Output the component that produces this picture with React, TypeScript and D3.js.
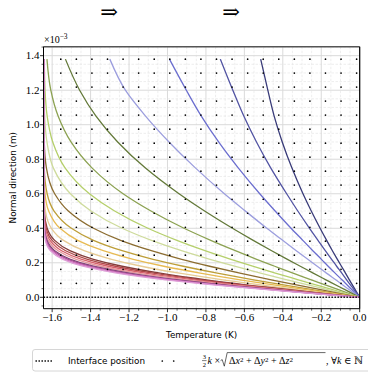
import React, { useEffect, useRef } from 'react';
import * as d3 from 'd3';

// heights above the interface (x 1e-3 m) at which the profiles are read
const heights = [0, 0.03, 0.06, 0.1, 0.14, 0.18, 0.22, 0.27, 0.33, 0.4, 0.5, 0.6, 0.75, 0.9, 1.05, 1.2, 1.38];

// temperature profiles (K), one per curve, values at `heights`
const prof00 = [0, -0.016, -0.032, -0.053, -0.074, -0.095, -0.116, -0.142, -0.172, -0.206, -0.252, -0.295, -0.353, -0.403, -0.445, -0.478, -0.515];
const prof01 = [0, -0.020, -0.040, -0.067, -0.093, -0.120, -0.146, -0.179, -0.217, -0.261, -0.322, -0.380, -0.463, -0.537, -0.603, -0.660, -0.725];
const prof02 = [0, -0.027, -0.055, -0.091, -0.128, -0.164, -0.199, -0.244, -0.296, -0.357, -0.440, -0.520, -0.632, -0.734, -0.824, -0.902, -0.990];
const prof03 = [0, -0.037, -0.074, -0.123, -0.173, -0.221, -0.270, -0.330, -0.401, -0.483, -0.595, -0.704, -0.855, -0.992, -1.114, -1.219, -1.300];
const prof04 = [0, -0.052, -0.104, -0.173, -0.242, -0.309, -0.376, -0.458, -0.554, -0.662, -0.807, -0.940, -1.116, -1.259, -1.372, -1.457, -1.531];
const prof05 = [0, -0.075, -0.150, -0.248, -0.347, -0.442, -0.536, -0.647, -0.775, -0.914, -1.086, -1.231, -1.393, -1.502, -1.569, -1.607, -1.627];
const prof06 = [0, -0.096, -0.191, -0.315, -0.439, -0.557, -0.670, -0.805, -0.951, -1.102, -1.275, -1.406, -1.533, -1.597, -1.626, -1.637, -1.641];
const prof07 = [0, -0.113, -0.225, -0.373, -0.516, -0.651, -0.779, -0.927, -1.083, -1.236, -1.398, -1.505, -1.594, -1.627, -1.639, -1.642, -1.643];
const prof08 = [0, -0.139, -0.276, -0.454, -0.623, -0.781, -0.926, -1.084, -1.244, -1.385, -1.516, -1.587, -1.630, -1.641, -1.643, -1.643, -1.643];
const prof09 = [0, -0.168, -0.333, -0.545, -0.741, -0.918, -1.075, -1.236, -1.385, -1.500, -1.590, -1.626, -1.641, -1.643, -1.643, -1.643, -1.643];
const prof10 = [0, -0.191, -0.378, -0.614, -0.830, -1.019, -1.178, -1.334, -1.467, -1.559, -1.618, -1.637, -1.643, -1.643, -1.643, -1.643, -1.643];
const prof11 = [0, -0.222, -0.437, -0.703, -0.938, -1.135, -1.291, -1.434, -1.541, -1.604, -1.635, -1.642, -1.643, -1.643, -1.643, -1.643, -1.643];
const prof12 = [0, -0.251, -0.493, -0.789, -1.038, -1.236, -1.385, -1.508, -1.587, -1.626, -1.641, -1.643, -1.643, -1.643, -1.643, -1.643, -1.643];
const prof13 = [0, -0.263, -0.516, -0.820, -1.075, -1.272, -1.416, -1.530, -1.600, -1.631, -1.642, -1.643, -1.643, -1.643, -1.643, -1.643, -1.643];
const prof14 = [0, -0.276, -0.540, -0.855, -1.114, -1.309, -1.446, -1.551, -1.611, -1.635, -1.642, -1.643, -1.643, -1.643, -1.643, -1.643, -1.643];
const prof15 = [0, -0.291, -0.567, -0.892, -1.155, -1.346, -1.475, -1.569, -1.620, -1.638, -1.643, -1.643, -1.643, -1.643, -1.643, -1.643, -1.643];
const prof16 = [0, -0.306, -0.595, -0.933, -1.198, -1.385, -1.505, -1.587, -1.627, -1.640, -1.643, -1.643, -1.643, -1.643, -1.643, -1.643, -1.643];
const prof17 = [0, -0.314, -0.611, -0.955, -1.219, -1.403, -1.518, -1.594, -1.630, -1.641, -1.643, -1.643, -1.643, -1.643, -1.643, -1.643, -1.643];
const prof18 = [0, -0.324, -0.628, -0.976, -1.244, -1.423, -1.533, -1.602, -1.633, -1.641, -1.643, -1.643, -1.643, -1.643, -1.643, -1.643, -1.643];
const prof19 = [0, -0.334, -0.646, -0.999, -1.264, -1.441, -1.544, -1.609, -1.635, -1.642, -1.643, -1.643, -1.643, -1.643, -1.643, -1.643, -1.643];

const profiles = [prof00, prof01, prof02, prof03, prof04, prof05, prof06, prof07, prof08, prof09,
  prof10, prof11, prof12, prof13, prof14, prof15, prof16, prof17, prof18, prof19];

// tab20b
const profileColors = ['#393b79', '#5254a3', '#6b6ecf', '#9c9ede', '#637939', '#8ca252', '#b5cf6b', '#cedb9c',
  '#8c6d31', '#bd9e39', '#e7ba52', '#e7cb94', '#843c39', '#ad494a', '#d6616b', '#e7969c',
  '#7b4173', '#a55194', '#ce6dbd', '#de9ed6'];

// grid of dots (k * spacing)
const dotTemps = [-1.555, -1.474, -1.393, -1.312, -1.231, -1.150, -1.069, -0.988, -0.907, -0.826,
  -0.745, -0.664, -0.583, -0.502, -0.421, -0.340, -0.259, -0.178, -0.097, -0.016];
const dotHeights = [0.081, 0.162, 0.244, 0.325, 0.406, 0.487, 0.568, 0.650, 0.731, 0.812,
  0.893, 0.974, 1.056, 1.137, 1.218, 1.299, 1.380];

const xTicks = [-1.6, -1.4, -1.2, -1.0, -0.8, -0.6, -0.4, -0.2, 0.0];
const yTicks = [0, 0.2, 0.4, 0.6, 0.8, 1.0, 1.2, 1.4];

const W = 368;
const H = 372;

export default function App() {
  const svgRef = useRef<SVGSVGElement | null>(null);

  useEffect(() => {
    document.body.style.margin = '0';
    const svg = d3.select(svgRef.current);
    svg.selectAll('*').remove();

    const left = 43.5, right = 359.7, top = 46.7, bottom = 308.7;
    const x = d3.scaleLinear().domain([-1.645, 0]).range([left, right]);
    const y = d3.scaleLinear().domain([-0.066, 1.452]).range([bottom, top]);

    const serif = '"Liberation Serif", "DejaVu Serif", serif';
    const sans = '"DejaVu Sans", sans-serif';

    // arrows on top
    [109, 231].forEach(cx => {
      svg.append('text').attr('x', cx).attr('y', 19).attr('text-anchor', 'middle')
        .attr('font-family', '"DejaVu Serif", serif').attr('font-size', 21).text('⇒');
    });

    svg.append('defs').append('clipPath').attr('id', 'plotclip')
      .append('rect').attr('x', left).attr('y', top).attr('width', right - left).attr('height', bottom - top);

    const grid = svg.append('g');
    const minorX = d3.range(-1.6, 0.001, 0.05).filter(v => Math.abs(Math.round(v * 5) - v * 5) > 1e-6);
    const minorY = d3.range(-0.05, 1.451, 0.05).filter(v => Math.abs(Math.round(v * 5) - v * 5) > 1e-6);
    minorX.forEach(v => grid.append('line').attr('x1', x(v)).attr('x2', x(v)).attr('y1', top).attr('y2', bottom)
      .attr('stroke', '#e6e6e6').attr('stroke-width', 0.7).attr('stroke-dasharray', '2.5,1.5'));
    minorY.forEach(v => grid.append('line').attr('y1', y(v)).attr('y2', y(v)).attr('x1', left).attr('x2', right)
      .attr('stroke', '#e6e6e6').attr('stroke-width', 0.7).attr('stroke-dasharray', '2.5,1.5'));
    xTicks.forEach(v => grid.append('line').attr('x1', x(v)).attr('x2', x(v)).attr('y1', top).attr('y2', bottom)
      .attr('stroke', '#dadada').attr('stroke-width', 1));
    yTicks.forEach(v => grid.append('line').attr('y1', y(v)).attr('y2', y(v)).attr('x1', left).attr('x2', right)
      .attr('stroke', '#dadada').attr('stroke-width', 1));

    const plot = svg.append('g').attr('clip-path', 'url(#plotclip)');

    const line = d3.line<number>()
      .x(t => x(t))
      .y((_, i) => y(heights[i]))
      .curve(d3.curveMonotoneY);

    profiles.forEach((p, i) => {
      plot.append('path').attr('d', line(p) as string).attr('fill', 'none')
        .attr('stroke', profileColors[i]).attr('stroke-width', 1.3);
    });

    dotTemps.forEach(t => dotHeights.forEach(h => {
      plot.append('circle').attr('cx', x(t)).attr('cy', y(h)).attr('r', 0.85).attr('fill', '#000');
    }));

    plot.append('line').attr('x1', left).attr('x2', right).attr('y1', y(0)).attr('y2', y(0))
      .attr('stroke', '#000').attr('stroke-width', 1.4).attr('stroke-dasharray', '1.4,1.6');

    // spines
    svg.append('line').attr('x1', left).attr('x2', right).attr('y1', top).attr('y2', top).attr('stroke', '#555').attr('stroke-width', 1.4);
    svg.append('line').attr('x1', left).attr('x2', right).attr('y1', bottom).attr('y2', bottom).attr('stroke', '#000').attr('stroke-width', 1);
    svg.append('line').attr('x1', left).attr('x2', left).attr('y1', top).attr('y2', bottom).attr('stroke', '#000').attr('stroke-width', 1);
    svg.append('line').attr('x1', right).attr('x2', right).attr('y1', top).attr('y2', bottom).attr('stroke', '#000').attr('stroke-width', 1.2);

    // ticks
    const ax = svg.append('g');
    minorX.forEach(v => ax.append('line').attr('x1', x(v)).attr('x2', x(v)).attr('y1', bottom).attr('y2', bottom + 2)
      .attr('stroke', '#000').attr('stroke-width', 0.6));
    minorY.filter(v => v > -0.066).forEach(v => ax.append('line').attr('y1', y(v)).attr('y2', y(v)).attr('x1', left).attr('x2', left - 2)
      .attr('stroke', '#000').attr('stroke-width', 0.6));
    xTicks.forEach(v => {
      ax.append('line').attr('x1', x(v)).attr('x2', x(v)).attr('y1', bottom).attr('y2', bottom + 3.5)
        .attr('stroke', '#000').attr('stroke-width', 0.8);
      ax.append('text').attr('x', x(v)).attr('y', 321).attr('text-anchor', 'middle')
        .attr('font-family', serif).attr('font-size', 11)
        .text(v === 0 ? '0.0' : '\u2212' + Math.abs(v).toFixed(1));
    });
    yTicks.forEach(v => {
      ax.append('line').attr('y1', y(v)).attr('y2', y(v)).attr('x1', left).attr('x2', left - 3.5)
        .attr('stroke', '#000').attr('stroke-width', 0.8);
      ax.append('text').attr('x', 39.5).attr('y', y(v) + 3.6).attr('text-anchor', 'end')
        .attr('font-family', serif).attr('font-size', 11).text(v.toFixed(1));
    });

    // offset text
    const off = svg.append('text').attr('x', 44).attr('y', 43).attr('font-family', serif).attr('font-size', 10);
    off.append('tspan').text('×10');
    off.append('tspan').attr('dy', -4).attr('font-size', 7.5).text('\u22123');

    // axis labels
    svg.append('text').attr('x', (left + right) / 2).attr('y', 337.5).attr('text-anchor', 'middle')
      .attr('font-family', sans).attr('font-size', 8.8).text('Temperature (K)');
    svg.append('text').attr('transform', `translate(15.5,${(top + bottom) / 2}) rotate(-90)`).attr('text-anchor', 'middle')
      .attr('font-family', sans).attr('font-size', 8.8).text('Normal direction (m)');

    // legend
    const lg = svg.append('g');
    lg.append('rect').attr('x', 32.5).attr('y', 349.5).attr('width', 345).attr('height', 21.5).attr('rx', 2.5)
      .attr('fill', '#fff').attr('stroke', '#cccccc').attr('stroke-width', 0.8);
    lg.append('line').attr('x1', 35.5).attr('x2', 53.5).attr('y1', 361).attr('y2', 361)
      .attr('stroke', '#000').attr('stroke-width', 1.4).attr('stroke-dasharray', '1.4,1.6');
    lg.append('text').attr('x', 68).attr('y', 364).attr('font-family', sans).attr('font-size', 8.8).text('Interface position');
    [162.3, 173.7].forEach(cx => lg.append('circle').attr('cx', cx).attr('cy', 361).attr('r', 0.85).attr('fill', '#000'));
    // 3/2 k x sqrt(...)
    lg.append('text').attr('x', 204.3).attr('y', 358.6).attr('text-anchor', 'middle').attr('font-family', serif).attr('font-size', 6.5).text('3');
    lg.append('text').attr('x', 204.3).attr('y', 366.8).attr('text-anchor', 'middle').attr('font-family', serif).attr('font-size', 6.5).text('2');
    lg.append('line').attr('x1', 202).attr('x2', 206.6).attr('y1', 360.6).attr('y2', 360.6).attr('stroke', '#000').attr('stroke-width', 0.5);
    const kx = lg.append('text').attr('x', 207.6).attr('y', 364).attr('font-family', serif).attr('font-size', 10);
    kx.append('tspan').attr('font-style', 'italic').text('k');
    kx.append('tspan').text(' ×');
    lg.append('path').attr('d', 'M220.6,360.6 L222.2,359.6 L224.3,366.2 L227.2,352.6 L325.5,352.6')
      .attr('fill', 'none').attr('stroke', '#000').attr('stroke-width', 0.6);
    const rad = lg.append('text').attr('x', 229).attr('y', 364).attr('font-family', serif).attr('font-size', 10);
    const parts: [string, string][] = [['Δ', 'n'], ['x', 'i'], ['2', 's'], [' + Δ', 'n'], ['y', 'i'], ['2', 's'], [' + Δ', 'n'], ['z', 'i'], ['2', 's']];
    parts.forEach(([s, k]) => {
      const ts = rad.append('tspan').text(s);
      if (k === 'i') ts.attr('font-style', 'italic');
      if (k === 's') ts.attr('font-size', 7).attr('baseline-shift', '35%');
    });
    const tail = lg.append('text').attr('x', 326).attr('y', 364).attr('font-family', serif).attr('font-size', 10);
    tail.append('tspan').text(', ∀');
    tail.append('tspan').attr('font-style', 'italic').text('k');
    tail.append('tspan').text(' ∈ ℕ');
  }, []);

  return <svg ref={svgRef} width={W} height={H} style={{ display: 'block' }} />;
}
